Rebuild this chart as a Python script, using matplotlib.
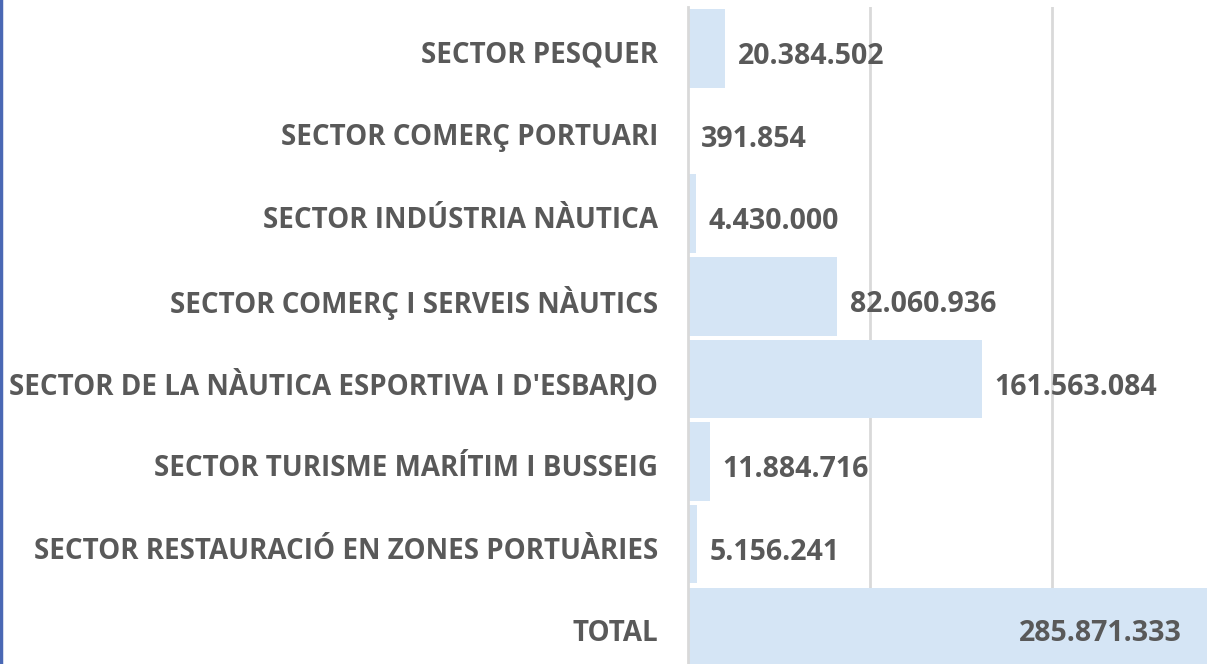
import matplotlib
matplotlib.use('Agg')
from matplotlib import pyplot as plt
from matplotlib.lines import Line2D

plt.rcParams['font.family'] = ['Open Sans', 'DejaVu Sans']

# data, top to bottom
sectors = ['SECTOR PESQUER',
           'SECTOR COMERÇ PORTUARI',
           'SECTOR INDÚSTRIA NÀUTICA',
           'SECTOR COMERÇ I SERVEIS NÀUTICS',
           "SECTOR DE LA NÀUTICA ESPORTIVA I D'ESBARJO",
           'SECTOR TURISME MARÍTIM I BUSSEIG',
           'SECTOR RESTAURACIÓ EN ZONES PORTUÀRIES',
           'TOTAL']
values = [20384502, 391854, 4430000, 82060936, 161563084, 11884716, 5156241, 285871333]
value_labels = ['20.384.502', '391.854', '4.430.000', '82.060.936',
                '161.563.084', '11.884.716', '5.156.241', '285.871.333']

txt_col = '#595959'
bar_col = '#d5e5f5'

fig = plt.figure(figsize=(12.07, 6.64), dpi=100)
ax = fig.add_axes([688/1207, 0, (1207-688)/1207, (664-7)/664])

ypos = list(range(len(sectors)))
ax.barh(ypos, values, height=0.95, color=bar_col, zorder=2)

ax.set_xlim(0, 285.2e6)
ax.set_ylim(7.45, -0.5)
ax.set_xticks([100e6, 200e6])
ax.xaxis.grid(True, color='#d9d9d9', linewidth=2, zorder=0)
ax.set_xticklabels([])
ax.tick_params(axis='both', length=0)
ax.set_yticks([])

for s in ['top', 'right', 'bottom']:
    ax.spines[s].set_visible(False)
ax.spines['left'].set_color('#d9d9d9')
ax.spines['left'].set_linewidth(2)

# category labels (left of the axis)
for i, name in enumerate(sectors):
    ax.annotate(name, (0, i), xytext=(-21.5, -5), textcoords='offset points',
                ha='right', va='center', fontsize=20, fontweight='bold',
                color=txt_col, annotation_clip=False)

# value labels
for i, (v, lab) in enumerate(zip(values, value_labels)):
    if i == len(values) - 1:
        ax.annotate(lab, (ax.get_xlim()[1], i), xytext=(-18, -5), textcoords='offset points',
                    ha='right', va='center', fontsize=20.5, fontweight='bold', color=txt_col, zorder=3)
    else:
        ax.annotate(lab, (v, i), xytext=(9, -6), textcoords='offset points',
                    ha='left', va='center', fontsize=20.5, fontweight='bold', color=txt_col, zorder=3)

# blue border line on the left edge
fig.add_artist(Line2D([0.001, 0.001], [0, 1], transform=fig.transFigure, color='#4a68b4', linewidth=2.5))

fig.savefig('out.png', dpi=100)
